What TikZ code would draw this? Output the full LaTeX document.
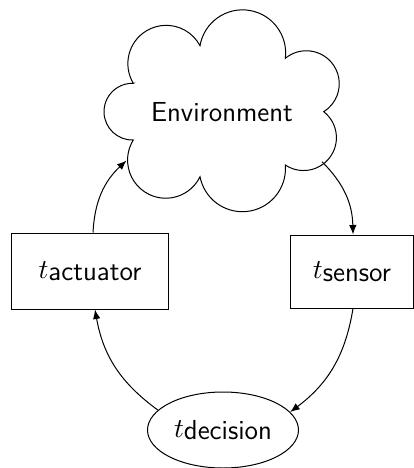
\documentclass[tikz,border=0pt]{standalone}
\usetikzlibrary{shapes.geometric,arrows.meta}
\renewcommand{\familydefault}{\sfdefault}
\begin{document}
\begin{tikzpicture}[x=0.4pt,y=-0.4pt,font=\fontsize{11}{13}\selectfont,
  boxnode/.style={draw,rectangle,inner sep=0pt},
  conn/.style={-{Latex[length=3.8pt,width=3pt]},bend left=22}]
\useasboundingbox (0,0) rectangle (414,468);
% cloud outline
\draw (133.3,83.3)
  arc[start angle=149.1,end angle=332.1,radius=38.3]
  arc[start angle=189.7,end angle=367.1,radius=43.13]
  arc[start angle=230.45,end angle=418.1,radius=32.96]
  arc[start angle=307.85,end angle=483.7,radius=32.87]
  arc[start angle=355.22,end angle=529.16,radius=43.11]
  arc[start angle=25.82,end angle=211.82,radius=38.12]
  arc[start angle=88.1,end angle=271.9,radius=28.37] -- cycle;
\node (env) at (222,112) {Environment};
\coordinate (envL) at (126.5,160.5);
\coordinate (envR) at (322,161.7);
\node[boxnode,minimum width=62.4pt,minimum height=30.4pt] (act) at (90,271) {\(t\)\raisebox{-1pt}{actuator}};
\node[boxnode,minimum width=48.8pt,minimum height=29.2pt] (sen) at (352,271.5) {\(t\)\raisebox{-1pt}{sensor}};
\node[draw,ellipse,minimum width=60.4pt,minimum height=30.4pt,inner sep=0pt] (dec) at (223,430) {\(t\)\raisebox{-1pt}{decision}};
\draw[conn] ([xshift=1.2pt]act.north) to (envL);
\draw[conn] (envR) to ([xshift=0.4pt]sen.north);
\draw[conn] ([xshift=0.4pt]sen.south) to (dec.15);
\draw[conn] (dec.163) to ([xshift=2pt]act.south);
\end{tikzpicture}
\end{document}
